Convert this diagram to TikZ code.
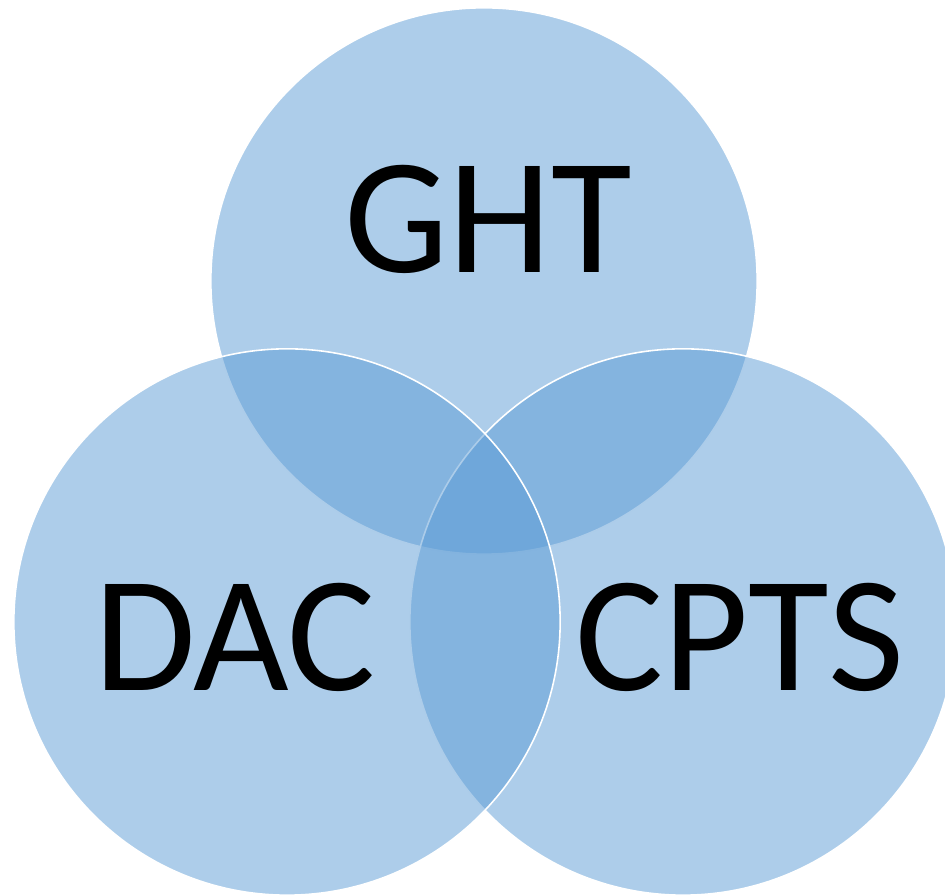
\documentclass[tikz,border=0pt]{standalone}
\usepackage{fontspec}
\newfontfamily\vennfont{Carlito}
\definecolor{vennblue}{HTML}{5B9BD5}
\begin{document}
\begin{tikzpicture}[x=0.01cm,y=-0.01cm,
    vset/.style={circle,draw=white,line width=0.45pt,fill=vennblue,
      fill opacity=0.5,draw opacity=1,minimum size=5.46cm,inner sep=0pt},
    vlabel/.style={anchor=base,inner sep=0pt,text=black,
      font=\vennfont\fontsize{47}{47}\selectfont}
  ]
  \useasboundingbox (0,0) rectangle (945,895);
  % the three sets, last one on top
  \node[vset] (ght) at (484,281) {};
  \node[vset] (cpts) at (683,622) {};
  \node[vset] (dac) at (287,622) {};

  \node[vlabel] (ghtlbl) at (488,273) {GHT};
  \node[vlabel] (daclbl) at (235,691) {DAC};
  \node[vlabel] (cptslbl) at (740,691) {CPTS};
\end{tikzpicture}
\end{document}
